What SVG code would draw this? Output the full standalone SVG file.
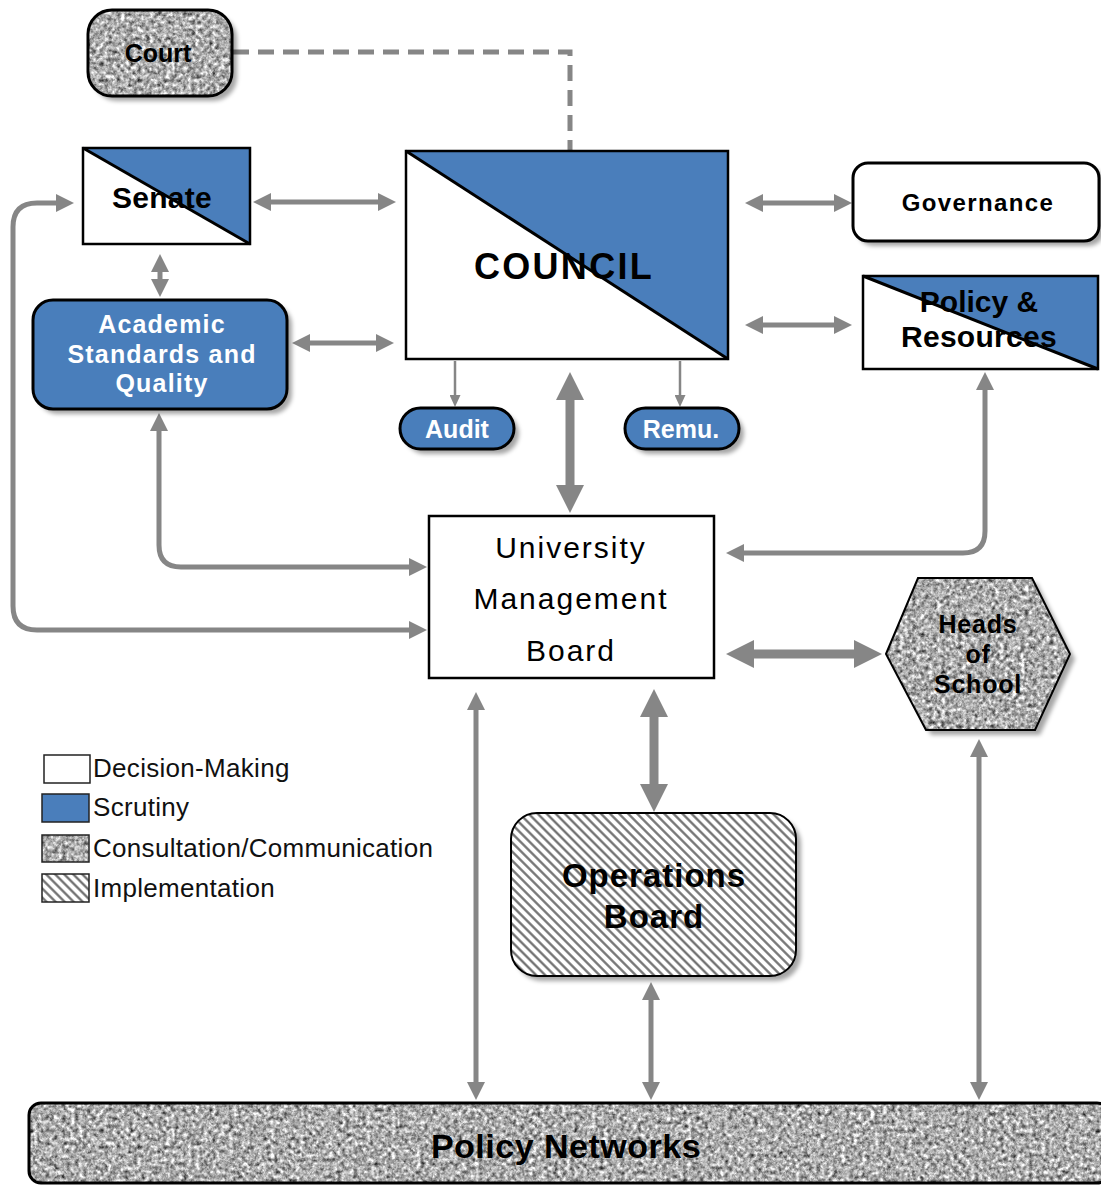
<svg xmlns="http://www.w3.org/2000/svg" width="1101" height="1186" viewBox="0 0 1101 1186">
<style>
.t{font-family:"Liberation Sans",Arial,sans-serif;font-weight:bold;text-anchor:middle;fill:#000}
.w{fill:#fff}
.n{font-weight:normal}
.lg{font-family:"Liberation Sans",Arial,sans-serif;font-size:26px;fill:#111;letter-spacing:0.3px}
.ln{fill:none;stroke:#868686;stroke-width:5}
.thk{fill:none;stroke:#868686;stroke-width:9}
.thn{fill:none;stroke:#868686;stroke-width:2.5}
.ol{fill:none;stroke:#000;stroke-width:3}
.blue{fill:#4a7ebb}
</style>
<defs>
<marker id="a" viewBox="0 0 18 18" markerWidth="18" markerHeight="18" refX="1" refY="9" orient="auto-start-reverse" markerUnits="userSpaceOnUse"><path d="M0,0 L18,9 L0,18 z" fill="#868686"/></marker>
<marker id="ab" viewBox="0 0 28 28" markerWidth="28" markerHeight="28" refX="1" refY="14" orient="auto-start-reverse" markerUnits="userSpaceOnUse"><path d="M0,0 L28,14 L0,28 z" fill="#868686"/></marker>
<marker id="as" viewBox="0 0 12 11" markerWidth="12" markerHeight="11" refX="1" refY="5.5" orient="auto-start-reverse" markerUnits="userSpaceOnUse"><path d="M0,0 L12,5.5 L0,11 z" fill="#868686"/></marker>
<filter id="granite" x="0" y="0" width="100%" height="100%" color-interpolation-filters="sRGB">
<feTurbulence type="fractalNoise" baseFrequency="0.24" numOctaves="3" seed="7" result="t"/>
<feColorMatrix in="t" type="matrix" values="0.85 0.85 0 0 -0.18  0.85 0.85 0 0 -0.18  0.85 0.85 0 0 -0.18  0 0 0 0 1" result="g"/>
<feComposite in="g" in2="SourceAlpha" operator="in"/>
</filter>
<filter id="ds" x="-10%" y="-10%" width="130%" height="130%">
<feDropShadow dx="5" dy="5" stdDeviation="2" flood-color="#000" flood-opacity="0.35"/>
</filter>
<pattern id="hatch" width="6.4" height="6.4" patternUnits="userSpaceOnUse" patternTransform="rotate(-45)">
<rect width="6.4" height="6.4" fill="#fff"/>
<line x1="3.2" y1="0" x2="3.2" y2="6.4" stroke="#6a6a6a" stroke-width="2.2"/>
</pattern>
</defs>
<rect width="1101" height="1186" fill="#fff"/>

<g id="connectors">
<path class="ln" d="M233,52 H570 V150" stroke-width="6" stroke-dasharray="16 9"/>
<line class="ln" x1="270" y1="202" x2="379" y2="202" marker-start="url(#a)" marker-end="url(#a)"/>
<line class="ln" x1="160" y1="271" x2="160" y2="280" marker-start="url(#a)" marker-end="url(#a)"/>
<line class="ln" x1="309" y1="343" x2="377" y2="343" marker-start="url(#a)" marker-end="url(#a)"/>
<line class="ln" x1="762" y1="203" x2="835" y2="203" marker-start="url(#a)" marker-end="url(#a)"/>
<line class="ln" x1="762" y1="325" x2="835" y2="325" marker-start="url(#a)" marker-end="url(#a)"/>
<line class="thn" x1="455" y1="361" x2="455" y2="396" marker-end="url(#as)"/>
<line class="thn" x1="680" y1="361" x2="680" y2="396" marker-end="url(#as)"/>
<line class="thk" x1="570" y1="399" x2="570" y2="486" marker-start="url(#ab)" marker-end="url(#ab)"/>
<path class="ln" d="M159,430 V545 Q159,567 181,567 H410" marker-start="url(#a)" marker-end="url(#a)"/>
<path class="ln" d="M410,630 H37 Q13,630 13,606 V227 Q13,203 37,203 H57" marker-start="url(#a)" marker-end="url(#a)"/>
<path class="ln" d="M985,389 V531 Q985,553 963,553 H743" marker-start="url(#a)" marker-end="url(#a)"/>
<line class="thk" x1="753" y1="654" x2="855" y2="654" marker-start="url(#ab)" marker-end="url(#ab)"/>
<line class="ln" x1="476" y1="709" x2="476" y2="1083" marker-start="url(#a)" marker-end="url(#a)"/>
<line class="thk" x1="654" y1="716" x2="654" y2="785" marker-start="url(#ab)" marker-end="url(#ab)"/>
<line class="ln" x1="651" y1="999" x2="651" y2="1083" marker-start="url(#a)" marker-end="url(#a)"/>
<line class="ln" x1="979" y1="756" x2="979" y2="1083" marker-start="url(#a)" marker-end="url(#a)"/>
</g>

<g id="court">
<g filter="url(#ds)"><rect x="88" y="10" width="144" height="86" rx="24" fill="#a8a8a8"/></g>
<rect x="88" y="10" width="144" height="86" rx="24" fill="#a8a8a8" filter="url(#granite)"/>
<rect class="ol" x="88" y="10" width="144" height="86" rx="24"/>
<text class="t" x="158" y="62" font-size="25">Court</text>
</g>

<g id="senate">
<rect x="83" y="148" width="167" height="96" fill="#fff"/>
<polygon class="blue" points="83,148 250,148 250,244"/>
<line x1="83" y1="148" x2="250" y2="244" stroke="#000" stroke-width="3"/>
<rect x="83" y="148" width="167" height="96" fill="none" stroke="#000" stroke-width="2.5"/>
<text class="t" x="162" y="208" font-size="30" letter-spacing="0.3">Senate</text>
</g>

<g id="council">
<rect x="406" y="151" width="322" height="208" fill="#fff"/>
<polygon class="blue" points="406,151 728,151 728,359"/>
<line x1="406" y1="151" x2="728" y2="359" stroke="#000" stroke-width="3"/>
<rect x="406" y="151" width="322" height="208" fill="none" stroke="#000" stroke-width="2.5"/>
<text class="t" x="564" y="279" font-size="36" letter-spacing="2.3">COUNCIL</text>
</g>

<g id="governance">
<g filter="url(#ds)"><rect x="853" y="163" width="246" height="78" rx="15" fill="#fff"/></g>
<rect class="ol" x="853" y="163" width="246" height="78" rx="15"/>
<text class="t" x="978" y="211" font-size="24" letter-spacing="1.4">Governance</text>
</g>

<g id="policy-resources">
<rect x="863" y="276" width="235" height="93" fill="#fff"/>
<polygon class="blue" points="863,276 1098,276 1098,369"/>
<line x1="863" y1="276" x2="1098" y2="369" stroke="#000" stroke-width="3"/>
<rect x="863" y="276" width="235" height="93" fill="none" stroke="#000" stroke-width="2.5"/>
<text class="t" x="979" y="312" font-size="30">Policy &amp;</text>
<text class="t" x="979" y="347" font-size="30" letter-spacing="0.3">Resources</text>
</g>

<g id="academic-standards">
<g filter="url(#ds)"><rect x="33" y="300" width="254" height="109" rx="20" class="blue"/></g>
<rect class="ol" x="33" y="300" width="254" height="109" rx="20"/>
<text class="t w" x="162" y="333" font-size="25" letter-spacing="1.2">Academic</text>
<text class="t w" x="162" y="363" font-size="25" letter-spacing="1.2">Standards and</text>
<text class="t w" x="162" y="392" font-size="25" letter-spacing="1.2">Quality</text>
</g>

<g id="audit">
<g filter="url(#ds)"><rect x="400" y="408" width="114" height="41" rx="20.5" class="blue"/></g>
<rect class="ol" x="400" y="408" width="114" height="41" rx="20.5"/>
<text class="t w" x="457" y="438" font-size="25">Audit</text>
</g>

<g id="remu">
<g filter="url(#ds)"><rect x="625" y="408" width="114" height="41" rx="20.5" class="blue"/></g>
<rect class="ol" x="625" y="408" width="114" height="41" rx="20.5"/>
<text class="t w" x="681" y="438" font-size="25">Remu.</text>
</g>

<g id="umb">
<rect x="429" y="516" width="285" height="162" fill="#fff" stroke="#000" stroke-width="2.5"/>
<text class="t n" x="571" y="558" font-size="30" letter-spacing="2">University</text>
<text class="t n" x="571" y="609" font-size="30" letter-spacing="2">Management</text>
<text class="t n" x="571" y="661" font-size="30" letter-spacing="2">Board</text>
</g>

<g id="heads-of-school">
<g filter="url(#ds)"><polygon points="886,654 918,578 1032,578 1070,654 1035,730 926,730" fill="#a8a8a8"/></g>
<polygon points="886,654 918,578 1032,578 1070,654 1035,730 926,730" fill="#a8a8a8" filter="url(#granite)"/>
<polygon points="886,654 918,578 1032,578 1070,654 1035,730 926,730" fill="none" stroke="#000" stroke-width="2"/>
<text class="t" x="978" y="633" font-size="25" letter-spacing="0.8">Heads</text>
<text class="t" x="978" y="663" font-size="25" letter-spacing="0.8">of</text>
<text class="t" x="978" y="693" font-size="25" letter-spacing="0.8">School</text>
</g>

<g id="operations-board">
<g filter="url(#ds)"><rect x="511" y="813" width="285" height="163" rx="26" fill="#fff"/></g>
<rect x="511" y="813" width="285" height="163" rx="26" fill="url(#hatch)" stroke="#000" stroke-width="2"/>
<text class="t" x="654" y="887" font-size="33" letter-spacing="1">Operations</text>
<text class="t" x="654" y="928" font-size="33" letter-spacing="1">Board</text>
</g>

<g id="policy-networks">
<rect x="29" y="1103" width="1080" height="80" rx="12" fill="#a8a8a8" filter="url(#granite)"/>
<rect class="ol" x="29" y="1103" width="1080" height="80" rx="12"/>
<text class="t" x="566" y="1158" font-size="34" letter-spacing="0.5">Policy Networks</text>
</g>

<g id="legend">
<rect x="44" y="755" width="46" height="28" fill="#fff" stroke="#222" stroke-width="1.5"/>
<rect x="42" y="794" width="47" height="28" class="blue" stroke="#222" stroke-width="1.5"/>
<rect x="42" y="835" width="47" height="27" fill="#a8a8a8" filter="url(#granite)"/>
<rect x="42" y="835" width="47" height="27" fill="none" stroke="#222" stroke-width="1.5"/>
<rect x="42" y="874" width="47" height="28" fill="url(#hatch)" stroke="#222" stroke-width="1.5"/>
<text class="lg" x="93" y="777">Decision-Making</text>
<text class="lg" x="93" y="816">Scrutiny</text>
<text class="lg" x="93" y="857">Consultation/Communication</text>
<text class="lg" x="93" y="897">Implementation</text>
</g>
</svg>
